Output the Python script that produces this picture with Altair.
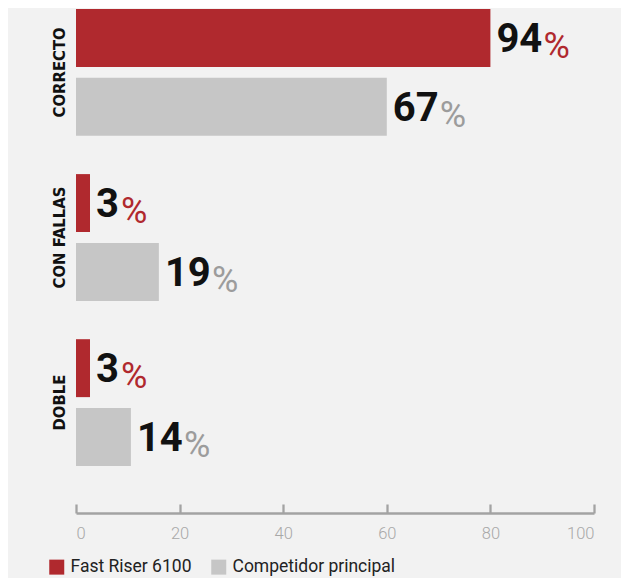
import altair as alt
import pandas as pd

categories = ["CORRECTO", "CON FALLAS", "DOBLE"]
series = ["Fast Riser 6100", "Competidor principal"]
bar_fast = [80, 2.7, 2.7]
bar_comp = [60, 16, 10.6]
label_fast = [94, 3, 3]
label_comp = [67, 19, 14]
x_ticks = [0, 20, 40, 60, 80, 100]

RED = "#b0292e"
GRAY = "#c6c6c6"
PCT_GRAY = "#9c9c9c"
COND = "DejaVu Sans Condensed, Liberation Sans Narrow, sans-serif"
ROBOTO = "Roboto, Liberation Sans, sans-serif"

rows = []
for i, c in enumerate(categories):
    rows.append({"category": c, "series": series[0], "bar": bar_fast[i], "label": label_fast[i]})
    rows.append({"category": c, "series": series[1], "bar": bar_comp[i], "label": label_comp[i]})
df = pd.DataFrame(rows)

xs = alt.Scale(domain=[0, 100], nice=False, zero=True)
y_enc = alt.Y("category:N", sort=categories, title=None,
              scale=alt.Scale(paddingInner=0.232, paddingOuter=0),
              axis=alt.Axis(labelAngle=-90, labelAlign="center", labelBaseline="alphabetic",
                            labelPadding=12, ticks=False, tickSize=0, domain=False,
                            labelFont=COND, labelFontSize=16.5, labelFontWeight="bold",
                            labelColor="#111111"))
yo_enc = alt.YOffset("series:N", sort=series,
                     scale=alt.Scale(paddingInner=0.159, paddingOuter=0))

base = alt.Chart(df)

bars = base.mark_bar().encode(
    x=alt.X("bar:Q", scale=xs, title=None,
            axis=alt.Axis(orient="bottom", values=x_ticks, offset=38, domain=False,
                          tickSize=9, tickWidth=2.3, tickColor="#a3a3a3",
                          labelFont=ROBOTO, labelFontSize=16.5, labelFontWeight=300,
                          labelColor="#a8a8a8",
                          labelPadding=12, labelBaseline="top", grid=False, labelFlush=True)),
    y=y_enc,
    yOffset=yo_enc,
    color=alt.Color("series:N", sort=series,
                    scale=alt.Scale(domain=series, range=[RED, GRAY]),
                    legend=alt.Legend(title=None, orient="none", direction="horizontal",
                                      legendX=-28, legendY=549, padding=0,
                                      symbolType="square", symbolSize=225,
                                      symbolStrokeWidth=0, symbolOpacity=1,
                                      labelFont=ROBOTO, labelFontSize=17.5, labelColor="#222222",
                                      labelLimit=400, labelOffset=5, columnPadding=18)),
)

nums = base.mark_text(align="left", baseline="alphabetic", font=ROBOTO, fontSize=40,
                      fontWeight="bold", color="#111111", dx=6, dy=14).encode(
    x=alt.X("bar:Q", scale=xs, axis=None),
    y=alt.Y("category:N", sort=categories),
    yOffset=yo_enc,
    text=alt.Text("label:Q"),
)

def pct_layer(digits, dx):
    return base.transform_filter(
        f"length(toString(datum.label)) == {digits}"
    ).transform_calculate(
        pct="'%'",
        pcolor=f"datum.series == '{series[0]}' ? '{RED}' : '{PCT_GRAY}'",
    ).mark_text(align="left", baseline="alphabetic", font=ROBOTO, fontSize=36,
                fontWeight="normal", dx=dx, dy=20).encode(
        x=alt.X("bar:Q", scale=xs, axis=None),
        y=alt.Y("category:N", sort=categories),
        yOffset=yo_enc,
        text="pct:N",
        color=alt.Color("pcolor:N", scale=None),
    )

pct1 = pct_layer(1, 31)
pct2 = pct_layer(2, 53)

axis_line = base.mark_point(opacity=0).encode(
    x=alt.X("bar:Q", scale=xs, title=None,
            axis=alt.Axis(orient="bottom", offset=47, domain=True, domainWidth=2.3,
                          domainColor="#a3a3a3", ticks=False, labels=False, grid=False)),
)

chart = alt.layer(bars, nums, pct1, pct2, axis_line).resolve_axis(
    x="independent"
).properties(
    width=518, height=457,
    background="#f2f2f2",
    autosize=alt.AutoSizeParams(type="none"),
    padding={"left": 68, "top": 1, "right": 27, "bottom": 112},
).configure_view(stroke=None)

chart.save("out.html", embed_options={"renderer": "svg", "actions": False})
